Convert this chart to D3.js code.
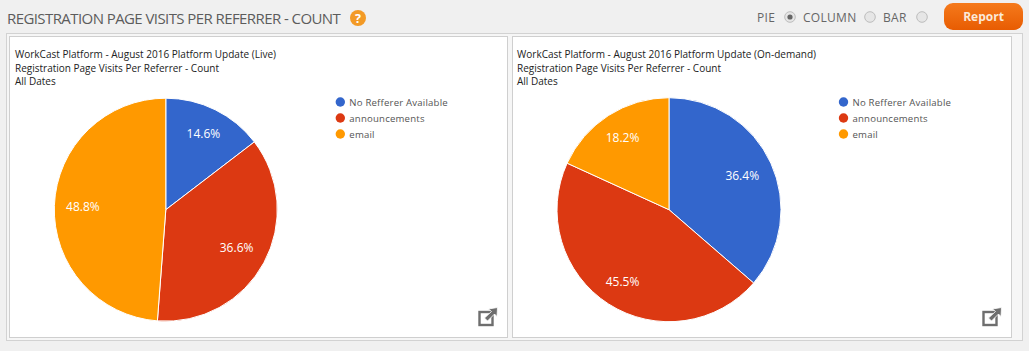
<!DOCTYPE html>
<html><head><meta charset="utf-8">
<script src="https://cdn.jsdelivr.net/npm/d3@7/dist/d3.min.js"></script>
<style>html,body{margin:0;padding:0;background:#f0f0f0;overflow:hidden}svg{display:block}text{font-family:"Open Sans",sans-serif}</style>
</head><body><svg id="c" width="1029" height="351"></svg>
<script>
const categories=["No Refferer Available","announcements","email"];
const liveValues=[14.6,36.6,48.8];
const onDemandValues=[36.4,45.5,18.2];
const colors=["#3366cc","#dc3912","#ff9900"];
const heading="REGISTRATION PAGE VISITS PER REFERRER - COUNT";
const modeLabels=["PIE","COLUMN","BAR"];
const modeLabelX=[757,803,883];
const modeRadioX=[790,870,922];
const subtitle="Registration Page Visits Per Referrer - Count";
const dateRange="All Dates";
const panels=[
 {x:9.5,w:498,tx:15,cx:165.8,r:111.5,values:liveValues,labelR:[85,80.5,83],title:"WorkCast Platform - August 2016 Platform Update (Live)",tl:261},
 {x:512.5,w:499,tx:517,cx:669,r:112,values:onDemandValues,labelR:[80.5,86,86],title:"WorkCast Platform - August 2016 Platform Update (On-demand)",tl:299}
];
const svg=d3.select("#c");
const defs=svg.append("defs");
const g=defs.append("linearGradient").attr("id","btn").attr("x2",0).attr("y2",1);
g.append("stop").attr("offset",0).attr("stop-color","#f57a1c");
g.append("stop").attr("offset",1).attr("stop-color","#e85c02");
svg.append("rect").attr("x",6.5).attr("y",33.5).attr("width",1016).attr("height",307).attr("fill","#f6f6f6").attr("stroke","#d2d2d2");
svg.append("text").text(heading).attr("x",7).attr("y",24).attr("font-size",15).attr("letter-spacing",-0.58).attr("fill","#5c5c5c");
svg.append("circle").attr("cx",358).attr("cy",18).attr("r",8).attr("fill","#f39a26");
svg.append("text").text("?").attr("x",358).attr("y",22.5).attr("text-anchor","middle").attr("font-size",12.5).attr("font-weight",700).attr("fill","#fff");
modeLabels.forEach((t,i)=>svg.append("text").text(t).attr("x",modeLabelX[i]).attr("y",22).attr("font-size",12).attr("fill","#666").attr("letter-spacing",.3));
modeRadioX.forEach((x,i)=>{
 svg.append("circle").attr("cx",x).attr("cy",17).attr("r",5.3).attr("fill","#e6e6e6").attr("stroke","#bdbdbd");
 if(i===0)svg.append("circle").attr("cx",x).attr("cy",17).attr("r",2.6).attr("fill","#666");
});
svg.append("rect").attr("x",944).attr("y",3).attr("width",79).attr("height",27).attr("rx",9).attr("fill","url(#btn)");
svg.append("text").text("Report").attr("x",983.5).attr("y",21).attr("text-anchor","middle").attr("font-size",12).attr("font-weight",700).attr("fill","#fbe9d8");
const pie=d3.pie().sort(null).value(d=>d);
panels.forEach(p=>{
 const G=svg.append("g");
 G.append("rect").attr("x",p.x).attr("y",36.5).attr("width",p.w).attr("height",301).attr("fill","#fff").attr("stroke","#cfcfcf");
 [p.title,subtitle,dateRange].forEach((t,i)=>{
  const el=G.append("text").text(t).attr("x",p.tx).attr("y",58+i*13.7).attr("font-size",10).attr("fill","#222");
  if(i===0)el.attr("textLength",p.tl).attr("lengthAdjust","spacingAndGlyphs");
 });
 const arc=d3.arc().innerRadius(0).outerRadius(p.r);
 const pg=G.append("g").attr("transform",`translate(${p.cx},209.7)`);
 const arcs=pie(p.values);
 pg.selectAll("path").data(arcs).join("path").attr("d",arc).attr("fill",(d,i)=>colors[i]).attr("stroke","#fff").attr("stroke-width",1);
 pg.selectAll("text").data(arcs).join("text").text(d=>d.data.toFixed(1)+"%").attr("transform",(d,i)=>{
   const c=d3.arc().innerRadius(p.labelR[i]).outerRadius(p.labelR[i]).centroid(d);
   return `translate(${c})`;
 }).attr("text-anchor","middle").attr("dy","0.35em").attr("font-size",12).attr("fill","#fff");
 categories.forEach((c,i)=>{
  const lx=p.cx+174.5, ly=102+i*16;
  G.append("circle").attr("cx",lx).attr("cy",ly).attr("r",4.7).attr("fill",colors[i]);
  G.append("text").text(c).attr("x",lx+9).attr("y",ly+3.7).attr("font-size",9.6).attr("letter-spacing",.2).attr("fill","#555");
 });
 const ix=p.x+p.w-29, iy=308;
 G.append("rect").attr("x",ix+1).attr("y",iy+4).attr("width",13).attr("height",13).attr("fill","none").attr("stroke","#6e6e6e").attr("stroke-width",2.4);
 G.append("path").attr("d",`M${ix+6} ${iy+10}L${ix+13} ${iy+3.5}L${ix+10} ${iy+1}L${ix+19} ${iy-.5}L${ix+18.5} ${iy+8.5}L${ix+16} ${iy+6}L${ix+9} ${iy+13}Z`).attr("fill","#6e6e6e").attr("stroke","#fff").attr("stroke-width",.8);
});
</script></body></html>
